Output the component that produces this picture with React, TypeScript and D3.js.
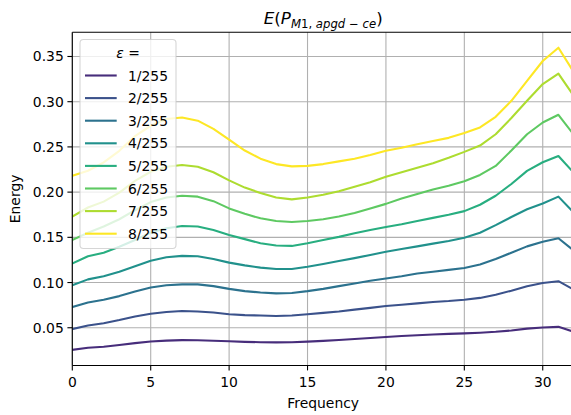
import React from "react";
import * as d3 from "d3";

const frequencies = [0,1,2,3,4,5,6,7,8,9,10,11,12,13,14,15,16,17,18,19,20,21,22,23,24,25,26,27,28,29,30,31,32];
const seriesLabels = ["1/255","2/255","3/255","4/255","5/255","6/255","7/255","8/255"];
const e1 = [0.0255,0.0278,0.029,0.031,0.033,0.0348,0.0358,0.0363,0.0362,0.0357,0.035,0.0344,0.034,0.0338,0.034,0.0346,0.0355,0.0365,0.0375,0.0387,0.0398,0.0408,0.0417,0.0425,0.0432,0.0438,0.0445,0.0455,0.047,0.049,0.0503,0.051,0.0455];
const e2 = [0.0486,0.0525,0.055,0.0585,0.0625,0.0655,0.0675,0.0685,0.068,0.0668,0.065,0.064,0.0635,0.063,0.0635,0.065,0.0665,0.068,0.070,0.072,0.074,0.0755,0.077,0.0785,0.0795,0.081,0.083,0.0865,0.091,0.096,0.0995,0.1015,0.092];
const e3 = [0.073,0.078,0.081,0.085,0.090,0.0945,0.097,0.098,0.098,0.096,0.093,0.0905,0.089,0.088,0.0885,0.0905,0.093,0.096,0.099,0.102,0.1045,0.107,0.110,0.112,0.114,0.116,0.120,0.126,0.133,0.140,0.145,0.149,0.135];
const e4 = [0.097,0.1035,0.107,0.112,0.118,0.124,0.128,0.1295,0.129,0.126,0.122,0.119,0.1165,0.115,0.115,0.1175,0.1205,0.1238,0.127,0.1305,0.134,0.137,0.140,0.143,0.146,0.1495,0.155,0.1635,0.1725,0.181,0.1875,0.195,0.177];
const e5 = [0.121,0.129,0.133,0.1395,0.147,0.155,0.160,0.1625,0.162,0.158,0.1525,0.148,0.1435,0.141,0.1405,0.1435,0.147,0.1505,0.1545,0.158,0.1615,0.1645,0.168,0.1715,0.175,0.179,0.186,0.196,0.209,0.2235,0.233,0.240,0.221];
const e6 = [0.147,0.155,0.162,0.170,0.180,0.189,0.194,0.196,0.195,0.190,0.182,0.176,0.171,0.168,0.167,0.168,0.170,0.173,0.177,0.182,0.187,0.193,0.198,0.203,0.207,0.212,0.219,0.229,0.246,0.264,0.277,0.2855,0.263];
const e7 = [0.173,0.183,0.1895,0.1995,0.2125,0.2225,0.228,0.230,0.228,0.222,0.213,0.205,0.199,0.194,0.192,0.194,0.197,0.201,0.206,0.211,0.217,0.222,0.227,0.232,0.238,0.2445,0.2515,0.264,0.282,0.301,0.3195,0.331,0.306];
const e8 = [0.218,0.2236,0.2328,0.2457,0.262,0.2734,0.2808,0.2826,0.279,0.270,0.258,0.246,0.237,0.231,0.2285,0.229,0.231,0.234,0.237,0.241,0.2457,0.249,0.253,0.2565,0.260,0.2655,0.2715,0.2833,0.301,0.323,0.345,0.3597,0.332];
const series = [e1, e2, e3, e4, e5, e6, e7, e8];
const xTicks = [0, 5, 10, 15, 20, 25, 30];
const yTicks = [0.05, 0.10, 0.15, 0.20, 0.25, 0.30, 0.35];

const FONT = "DejaVu Sans, sans-serif";

export default function App() {
  const W = 571, H = 415;
  const left = 72.3, right = 574.1, top = 32.3, bottom = 365.5;
  const x = d3.scaleLinear().domain([0, 32]).range([left, right]);
  const y = d3.scaleLinear().domain([0.00825, 0.37675]).range([bottom, top]);
  const line = d3.line<number>().x((_, i) => x(frequencies[i])).y((d) => y(d));
  const color = (k: number) => d3.interpolateViridis((k + 1) / 8);

  const legX = 80, legY = 39.5, legW = 96, legH = 209;
  const entry0 = 75.5, entryStep = 22.6;

  return (
    <svg width={W} height={H} style={{ position: "absolute", left: 0, top: 0, background: "#fff" }} fontFamily={FONT}>
      <defs>
        <clipPath id="plotclip">
          <rect x={left} y={top} width={right - left} height={bottom - top} />
        </clipPath>
      </defs>
      <rect x={0} y={0} width={W} height={H} fill="#fff" />
      {/* grid */}
      {xTicks.map((t) => (
        <line key={"gx" + t} x1={x(t)} x2={x(t)} y1={top} y2={bottom} stroke="#b0b0b0" strokeWidth={1.1} />
      ))}
      {yTicks.map((t) => (
        <line key={"gy" + t} x1={left} x2={right} y1={y(t)} y2={y(t)} stroke="#b0b0b0" strokeWidth={1.1} />
      ))}
      {/* lines */}
      <g clipPath="url(#plotclip)">
        {series.map((s, k) => (
          <path key={k} d={line(s) || ""} fill="none" stroke={color(k)} strokeWidth={2.1} strokeLinejoin="round" strokeLinecap="square" />
        ))}
      </g>
      {/* spines */}
      <line x1={left} x2={left} y1={top} y2={bottom} stroke="#000" strokeWidth={1.1} />
      <line x1={left} x2={right} y1={bottom} y2={bottom} stroke="#000" strokeWidth={1.1} />
      <line x1={left} x2={right} y1={top} y2={top} stroke="#000" strokeWidth={1.1} />
      {/* x ticks */}
      {xTicks.map((t) => (
        <g key={"xt" + t}>
          <line x1={x(t)} x2={x(t)} y1={bottom} y2={bottom + 4.9} stroke="#000" strokeWidth={1.1} />
          <text x={x(t)} y={bottom + 21} fontSize={13.9} textAnchor="middle" fill="#000">{t}</text>
        </g>
      ))}
      {/* y ticks */}
      {yTicks.map((t) => (
        <g key={"yt" + t}>
          <line x1={left - 4.9} x2={left} y1={y(t)} y2={y(t)} stroke="#000" strokeWidth={1.1} />
          <text x={left - 8.5} y={y(t) + 5} fontSize={13.9} textAnchor="end" fill="#000">{t.toFixed(2)}</text>
        </g>
      ))}
      {/* axis labels */}
      <text x={(left + right) / 2} y={408} fontSize={13.9} textAnchor="middle" fill="#000">Frequency</text>
      <text transform={`translate(20,${(top + bottom) / 2}) rotate(-90)`} fontSize={13.9} textAnchor="middle" fill="#000">Energy</text>
      {/* title */}
      <text x={(left + right) / 2} y={24} fontSize={16.7} textAnchor="middle" fill="#000">
        <tspan fontStyle="italic">E</tspan>
        <tspan>(</tspan>
        <tspan fontStyle="italic">P</tspan>
        <tspan fontSize={11.7} dy={3.5}>
          <tspan fontStyle="italic">M</tspan>
          <tspan>1, </tspan>
          <tspan fontStyle="italic">apgd</tspan>
          <tspan> − </tspan>
          <tspan fontStyle="italic">ce</tspan>
        </tspan>
        <tspan dy={-3.5}>)</tspan>
      </text>
      {/* legend */}
      <rect x={legX} y={legY} width={legW} height={legH} rx={3.5} ry={3.5} fill="#fff" fillOpacity={0.8} stroke="#cccccc" strokeOpacity={0.8} strokeWidth={1.1} />
      <text x={legX + legW / 2} y={57.5} fontSize={13.9} textAnchor="middle" fill="#000">
        <tspan fontStyle="italic">ε</tspan>
        <tspan> =</tspan>
      </text>
      {seriesLabels.map((lab, k) => (
        <g key={"lg" + k}>
          <line x1={85} x2={116.7} y1={entry0 + entryStep * k} y2={entry0 + entryStep * k} stroke={color(k)} strokeWidth={2.1} />
          <text x={128} y={entry0 + entryStep * k + 5} fontSize={13.9} fill="#000">{lab}</text>
        </g>
      ))}
    </svg>
  );
}
